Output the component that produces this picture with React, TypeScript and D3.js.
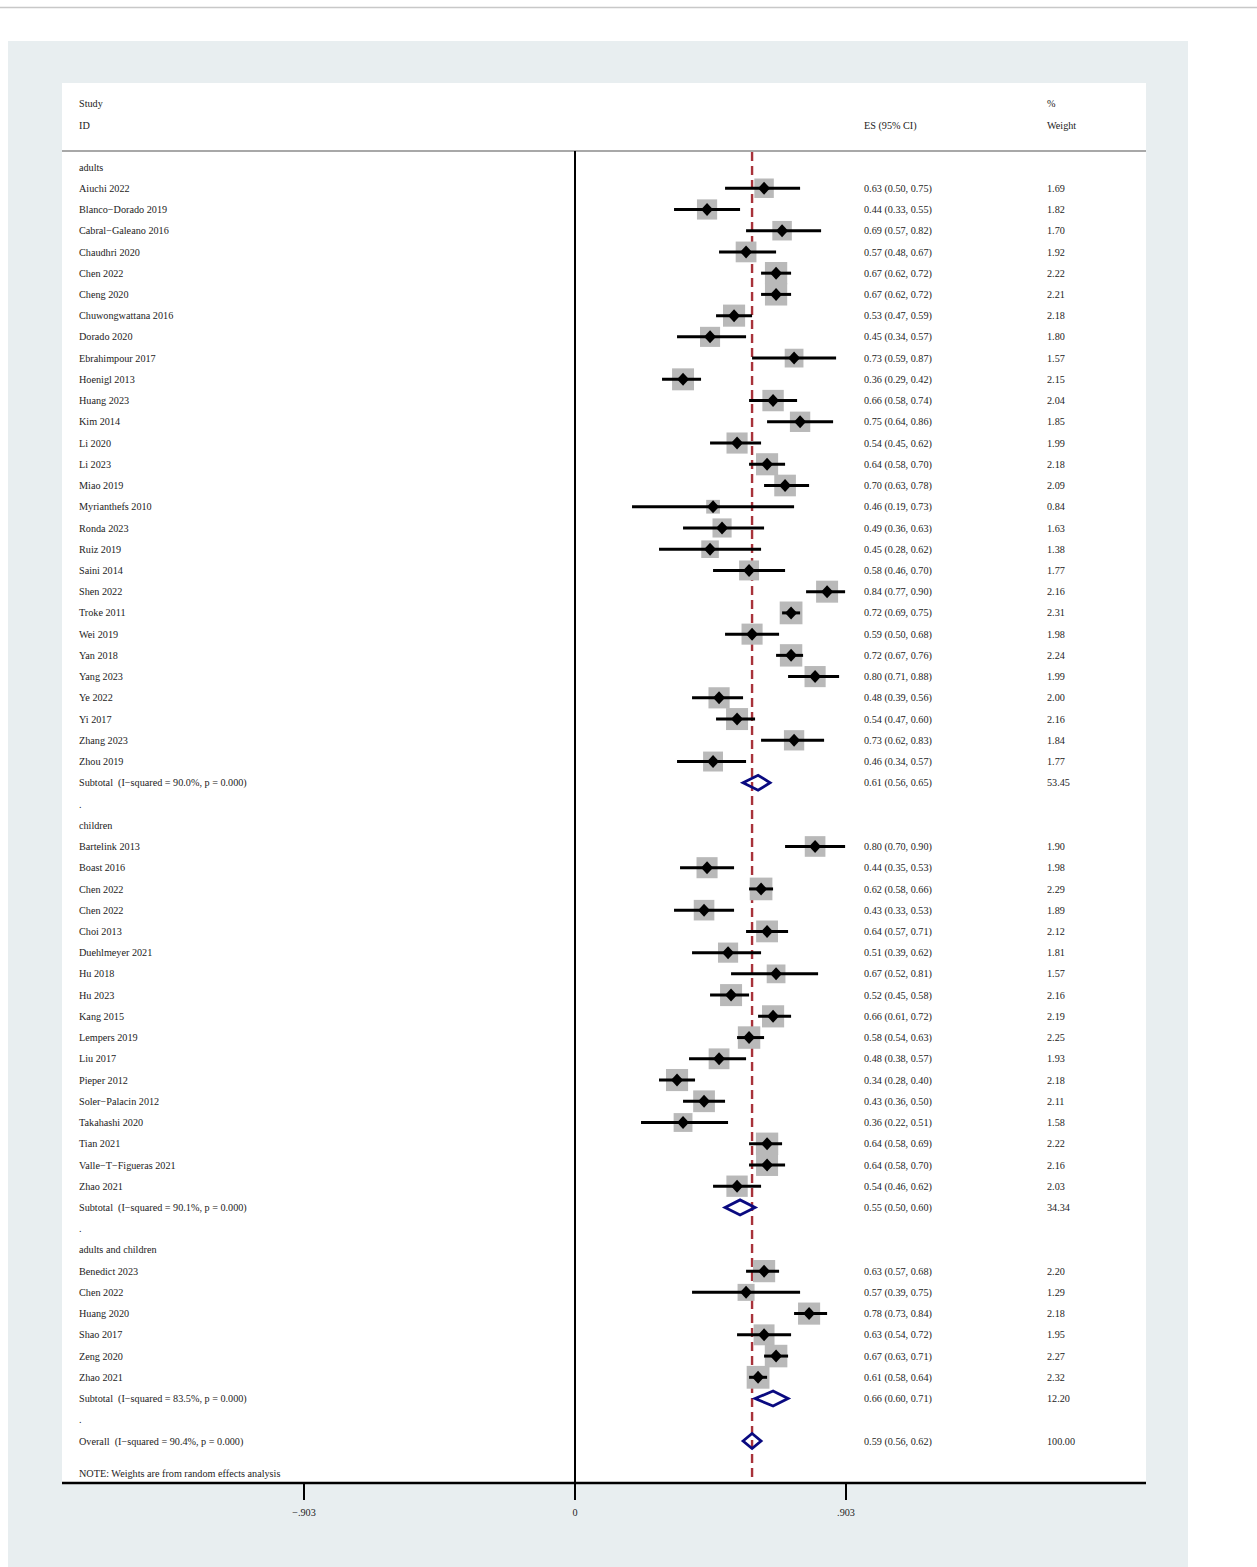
import React from "react";
import * as d3 from "d3";

// [study, ES, lower, upper, % weight]
type Study = [string, number, number, number, number];

const adultStudies: Study[] = [
  ["Aiuchi 2022", 0.63, 0.5, 0.75, 1.69],
  ["Blanco\u2212Dorado 2019", 0.44, 0.33, 0.55, 1.82],
  ["Cabral\u2212Galeano 2016", 0.69, 0.57, 0.82, 1.7],
  ["Chaudhri 2020", 0.57, 0.48, 0.67, 1.92],
  ["Chen 2022", 0.67, 0.62, 0.72, 2.22],
  ["Cheng 2020", 0.67, 0.62, 0.72, 2.21],
  ["Chuwongwattana 2016", 0.53, 0.47, 0.59, 2.18],
  ["Dorado 2020", 0.45, 0.34, 0.57, 1.8],
  ["Ebrahimpour 2017", 0.73, 0.59, 0.87, 1.57],
  ["Hoenigl 2013", 0.36, 0.29, 0.42, 2.15],
  ["Huang 2023", 0.66, 0.58, 0.74, 2.04],
  ["Kim 2014", 0.75, 0.64, 0.86, 1.85],
  ["Li 2020", 0.54, 0.45, 0.62, 1.99],
  ["Li 2023", 0.64, 0.58, 0.7, 2.18],
  ["Miao 2019", 0.7, 0.63, 0.78, 2.09],
  ["Myrianthefs 2010", 0.46, 0.19, 0.73, 0.84],
  ["Ronda 2023", 0.49, 0.36, 0.63, 1.63],
  ["Ruiz 2019", 0.45, 0.28, 0.62, 1.38],
  ["Saini 2014", 0.58, 0.46, 0.7, 1.77],
  ["Shen 2022", 0.84, 0.77, 0.9, 2.16],
  ["Troke 2011", 0.72, 0.69, 0.75, 2.31],
  ["Wei 2019", 0.59, 0.5, 0.68, 1.98],
  ["Yan 2018", 0.72, 0.67, 0.76, 2.24],
  ["Yang 2023", 0.8, 0.71, 0.88, 1.99],
  ["Ye 2022", 0.48, 0.39, 0.56, 2.0],
  ["Yi 2017", 0.54, 0.47, 0.6, 2.16],
  ["Zhang 2023", 0.73, 0.62, 0.83, 1.84],
  ["Zhou 2019", 0.46, 0.34, 0.57, 1.77],
];

const childStudies: Study[] = [
  ["Bartelink 2013", 0.8, 0.7, 0.9, 1.9],
  ["Boast 2016", 0.44, 0.35, 0.53, 1.98],
  ["Chen 2022", 0.62, 0.58, 0.66, 2.29],
  ["Chen 2022", 0.43, 0.33, 0.53, 1.89],
  ["Choi 2013", 0.64, 0.57, 0.71, 2.12],
  ["Duehlmeyer 2021", 0.51, 0.39, 0.62, 1.81],
  ["Hu 2018", 0.67, 0.52, 0.81, 1.57],
  ["Hu 2023", 0.52, 0.45, 0.58, 2.16],
  ["Kang 2015", 0.66, 0.61, 0.72, 2.19],
  ["Lempers 2019", 0.58, 0.54, 0.63, 2.25],
  ["Liu 2017", 0.48, 0.38, 0.57, 1.93],
  ["Pieper 2012", 0.34, 0.28, 0.4, 2.18],
  ["Soler\u2212Palacin 2012", 0.43, 0.36, 0.5, 2.11],
  ["Takahashi 2020", 0.36, 0.22, 0.51, 1.58],
  ["Tian 2021", 0.64, 0.58, 0.69, 2.22],
  ["Valle\u2212T\u2212Figueras 2021", 0.64, 0.58, 0.7, 2.16],
  ["Zhao 2021", 0.54, 0.46, 0.62, 2.03],
];

const mixedStudies: Study[] = [
  ["Benedict 2023", 0.63, 0.57, 0.68, 2.2],
  ["Chen 2022", 0.57, 0.39, 0.75, 1.29],
  ["Huang 2020", 0.78, 0.73, 0.84, 2.18],
  ["Shao 2017", 0.63, 0.54, 0.72, 1.95],
  ["Zeng 2020", 0.67, 0.63, 0.71, 2.27],
  ["Zhao 2021", 0.61, 0.58, 0.64, 2.32],
];

const groupNames = ["adults", "children", "adults and children"];
const groupStudies = [adultStudies, childStudies, mixedStudies];
// [I-squared, ES, lower, upper, % weight]
const subtotals: [string, number, number, number, number][] = [
  ["90.0%", 0.61, 0.56, 0.65, 53.45],
  ["90.1%", 0.55, 0.5, 0.6, 34.34],
  ["83.5%", 0.66, 0.6, 0.71, 12.2],
];
const overall: [string, number, number, number, number] = ["90.4%", 0.59, 0.56, 0.62, 100.0];

const xTicks = [-0.903, 0, 0.903];
const xTickLabels = ["\u2212.903", "0", ".903"];

type Row = {
  kind: "group" | "study" | "subtotal" | "dot" | "overall";
  label: string;
  es?: number;
  lo?: number;
  hi?: number;
  w?: number;
};

const rows: Row[] = [];
groupNames.forEach((g, gi) => {
  rows.push({ kind: "group", label: g });
  groupStudies[gi].forEach(([label, es, lo, hi, w]) =>
    rows.push({ kind: "study", label, es, lo, hi, w })
  );
  const [i2, es, lo, hi, w] = subtotals[gi];
  rows.push({ kind: "subtotal", label: `Subtotal  (I\u2212squared = ${i2}, p = 0.000)`, es, lo, hi, w });
  rows.push({ kind: "dot", label: "." });
});
rows.push({
  kind: "overall",
  label: `Overall  (I\u2212squared = ${overall[0]}, p = 0.000)`,
  es: overall[1],
  lo: overall[2],
  hi: overall[3],
  w: overall[4],
});

const W = 1257;
const H = 1567;
const FONT = "'Liberation Serif', 'Times New Roman', serif";
const FS = 10.2;

const x = d3.scaleLinear().domain([-0.903, 0.903]).range([304, 846]);
const y = d3.scaleLinear().domain([0, rows.length - 1]).range([167, 1441]);
const boxSide = d3.scaleSqrt().domain([0, 2.32]).range([0, 22.8]);

const plotLeft = 62;
const plotRight = 1146;
const plotTop = 83;
const axisY = 1483;
const headerLineY = 151;

const fmt = d3.format(".2f");

function Txt({ x: tx, y: ty, children, anchor = "start" }: any) {
  return (
    <text
      x={tx}
      y={ty}
      dy="0.35em"
      textAnchor={anchor}
      fontFamily={FONT}
      fontSize={FS}
      fill="#222"
      style={{ whiteSpace: "pre" }}
    >
      {children}
    </text>
  );
}

export default function App() {
  const overallES = overall[1];
  const diamond = (r: Row, cy: number, h: number) =>
    `M${x(r.lo!)},${cy} L${x(r.es!)},${cy - h} L${x(r.hi!)},${cy} L${x(r.es!)},${cy + h} Z`;

  return (
    <svg
      width={W}
      height={H}
      viewBox={`0 0 ${W} ${H}`}
      style={{ position: "absolute", left: 0, top: 0, background: "#fff" }}
    >
      <line x1={0} x2={W} y1={7.5} y2={7.5} stroke="#c8c8c8" strokeWidth={1.5} />
      <rect x={8} y={41} width={1180} height={H - 41} fill="#e8eef0" />
      <rect x={plotLeft} y={plotTop} width={plotRight - plotLeft} height={axisY - plotTop} fill="#fff" />

      {/* header */}
      <Txt x={79} y={103}>Study</Txt>
      <Txt x={79} y={125}>ID</Txt>
      <Txt x={864} y={125}>ES (95% CI)</Txt>
      <Txt x={1047} y={103}>%</Txt>
      <Txt x={1047} y={125}>Weight</Txt>
      <line x1={plotLeft} x2={plotRight} y1={headerLineY} y2={headerLineY} stroke="#a8a8a8" strokeWidth={2} />

      {/* null line and overall effect line */}
      <line x1={x(0)} x2={x(0)} y1={headerLineY} y2={axisY} stroke="#000" strokeWidth={2} />
      <line
        x1={x(overallES)}
        x2={x(overallES)}
        y1={headerLineY + 1}
        y2={axisY}
        stroke="#a8323a"
        strokeWidth={2.4}
        strokeDasharray="9,5"
      />

      {/* weight boxes */}
      {rows.map((r, i) =>
        r.kind === "study" ? (
          <rect
            key={`b${i}`}
            x={x(r.es!) - boxSide(r.w!) / 2}
            y={y(i) - boxSide(r.w!) / 2}
            width={boxSide(r.w!)}
            height={boxSide(r.w!)}
            fill="#b9b9b9"
          />
        ) : null
      )}

      {/* confidence intervals and point estimates */}
      {rows.map((r, i) =>
        r.kind === "study" ? (
          <g key={`c${i}`}>
            <line x1={x(r.lo!)} x2={x(r.hi!)} y1={y(i)} y2={y(i)} stroke="#000" strokeWidth={3} />
            <path
              d={`M${x(r.es!) - 6},${y(i)} L${x(r.es!)},${y(i) - 6.5} L${x(r.es!) + 6},${y(i)} L${x(r.es!)},${y(i) + 6.5} Z`}
              fill="#000"
            />
          </g>
        ) : null
      )}

      {/* pooled diamonds */}
      {rows.map((r, i) =>
        r.kind === "subtotal" || r.kind === "overall" ? (
          <path key={`d${i}`} d={diamond(r, y(i), 7.5)} fill="none" stroke="#0a0a80" strokeWidth={2.8} strokeLinejoin="miter" />
        ) : null
      )}

      {/* text columns */}
      {rows.map((r, i) => (
        <g key={`t${i}`}>
          <Txt x={79} y={y(i)}>{r.label}</Txt>
          {r.es !== undefined && (
            <>
              <Txt x={864} y={y(i)}>{`${fmt(r.es)} (${fmt(r.lo!)}, ${fmt(r.hi!)})`}</Txt>
              <Txt x={1047} y={y(i)}>{fmt(r.w!)}</Txt>
            </>
          )}
        </g>
      ))}

      <Txt x={79} y={1473}>NOTE: Weights are from random effects analysis</Txt>

      {/* x axis */}
      <line x1={plotLeft} x2={plotRight} y1={axisY} y2={axisY} stroke="#000" strokeWidth={2.5} />
      {xTicks.map((t, i) => (
        <g key={`x${i}`}>
          <line x1={x(t)} x2={x(t)} y1={axisY} y2={axisY + 17} stroke="#000" strokeWidth={2} />
          <Txt x={x(t)} y={1512} anchor="middle">{xTickLabels[i]}</Txt>
        </g>
      ))}
    </svg>
  );
}
